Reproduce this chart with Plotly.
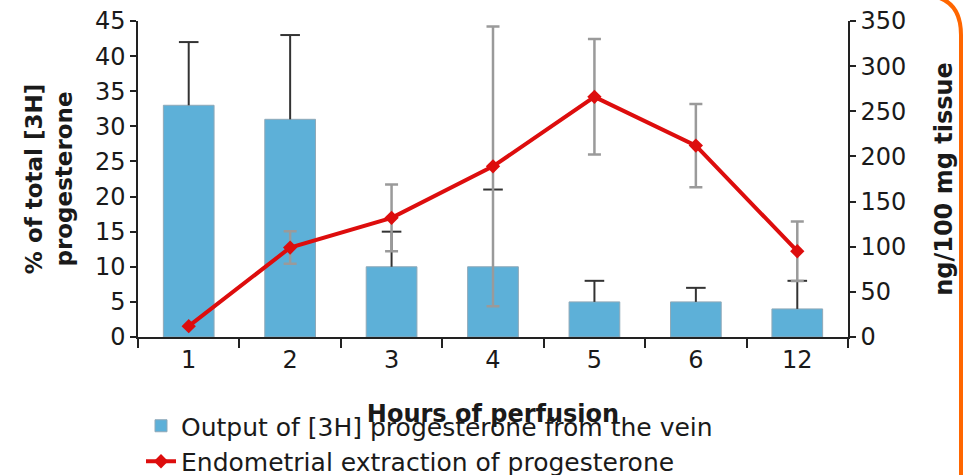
import plotly.graph_objects as go

hours = ["1", "2", "3", "4", "5", "6", "12"]
output_pct = [33, 31, 10, 10, 5, 5, 4]
output_err = [9, 12, 5, 11, 3, 2, 4]
extraction = [12, 99, 132, 189, 266, 212, 95]
extraction_err = [None, 18, 37, 155, 64, 46, 33]

FONT = "DejaVu Sans"
TXT = "#1a1a1a"

W, H = 967, 475
L, R, T, B = 138, 119, 21, 138
pw, ph = W - L - R, H - T - B


def px(x):
    return (x - L) / pw


def py(y):
    return (H - B - y) / ph


fig = go.Figure()
fig.add_trace(go.Bar(
    x=hours, y=output_pct, name="Output of [3H] progesterone from the vein",
    width=0.5,
    marker=dict(color="#5DB0D8", line=dict(color="#8FA9B8", width=1)),
    error_y=dict(type="data", array=output_err, arrayminus=[0] * len(output_err),
                 symmetric=False, color="#333333", thickness=2, width=0),
))
# caps of the upward error bars
fig.add_trace(go.Scatter(
    x=hours, y=[v + e for v, e in zip(output_pct, output_err)], mode="markers",
    showlegend=False, hoverinfo="skip",
    marker=dict(symbol="line-ew", size=14, line=dict(color="#333333", width=2)),
))
fig.add_trace(go.Scatter(
    x=hours, y=extraction, yaxis="y2", name="Endometrial extraction of progesterone",
    mode="lines+markers",
    line=dict(color="#DD0D0D", width=4),
    marker=dict(symbol="diamond", size=11, color="#DD0D0D"),
    error_y=dict(type="data", array=extraction_err, color="#9A9A9A", thickness=2.5, width=6.5),
))

axis_common = dict(showgrid=False, zeroline=False, showline=True, linecolor="#222222",
                   linewidth=1.5, ticks="outside", tickcolor="#222222", tickwidth=1.5,
                   tickfont=dict(family=FONT, size=24, color=TXT), automargin=False)

fig.update_layout(
    width=W, height=H,
    margin=dict(l=L, r=R, t=T, b=B, autoexpand=False),
    paper_bgcolor="white", plot_bgcolor="white",
    font=dict(family=FONT, color=TXT),
    bargap=0.5,
    xaxis=dict(type="category", categoryorder="array", categoryarray=hours,
               tickson="boundaries", ticklen=9,
               title=dict(text="<b>Hours of perfusion</b>", font=dict(family=FONT, size=24, color=TXT),
                          standoff=33),
               **axis_common),
    yaxis=dict(range=[0, 45], dtick=5, ticklen=6,
               title=dict(text="<b>% of total [3H]<br>progesterone</b>",
                          font=dict(family=FONT, size=23, color=TXT), standoff=16),
               **axis_common),
    yaxis2=dict(range=[0, 350], dtick=50, ticklen=6, overlaying="y", side="right",
                title=dict(text="<b>ng/100 mg tissue</b>",
                           font=dict(family=FONT, size=24, color=TXT), standoff=30),
                **axis_common),
    showlegend=True,
    legend=dict(x=px(141), y=py(403), xanchor="left", yanchor="top",
                orientation="v", font=dict(family=FONT, size=25, color=TXT),
                bgcolor="rgba(0,0,0,0)", tracegroupgap=0),
    shapes=[dict(type="path", xref="paper", yref="paper",
                 path=f"M {px(961)},{py(490)} L {px(961)},{py(35)} Q {px(961)},{py(-5)} {px(921)},{py(-5)}",
                 line=dict(color="#FF6600", width=4), layer="above")],
)

fig.write_html("out.html", config={"displayModeBar": False},
               post_script="document.body.style.margin='0';document.body.style.overflow='hidden';")
